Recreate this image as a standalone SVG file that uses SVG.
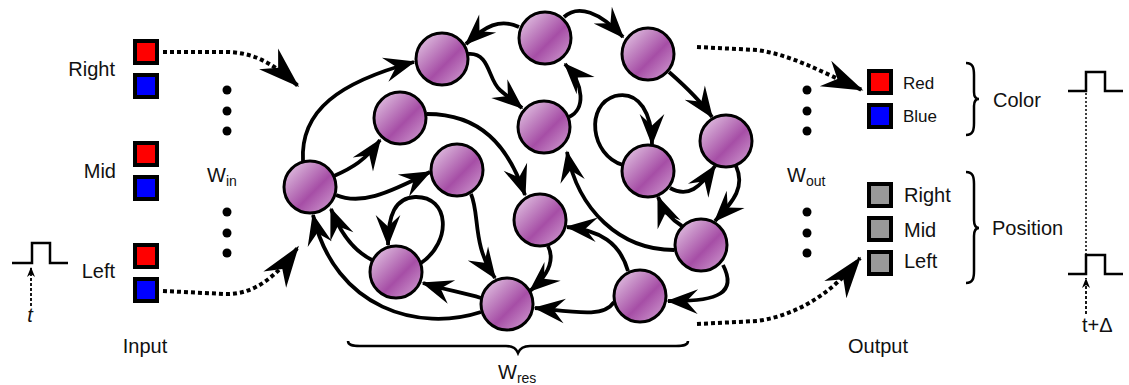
<svg xmlns="http://www.w3.org/2000/svg" width="1129" height="385" viewBox="0 0 1129 385">
<defs>
<linearGradient id="pg" x1="0" y1="0" x2="1" y2="1">
<stop offset="0" stop-color="#ecd4ec"/>
<stop offset="0.3" stop-color="#c68ec6"/>
<stop offset="0.58" stop-color="#a64ea6"/>
<stop offset="0.85" stop-color="#c486c4"/>
<stop offset="1" stop-color="#dcb6dc"/>
</linearGradient>
<marker id="ah" markerUnits="userSpaceOnUse" markerWidth="34" markerHeight="30" viewBox="-31 -13 33 26" refX="0" refY="0" orient="auto" overflow="visible">
<path d="M1.5,0 L-29,-12 L-18,0 L-29,12 Z" fill="#000"/>
</marker>
<marker id="dh" markerUnits="userSpaceOnUse" markerWidth="44" markerHeight="32" viewBox="-42 -15 44 30" refX="0" refY="0" orient="auto" overflow="visible">
<path d="M1.5,0 L-40,-14 L-27,0 L-40,14 Z" fill="#000"/>
</marker>
<marker id="sh" markerUnits="userSpaceOnUse" markerWidth="12" markerHeight="10" viewBox="-11 -5 12 10" refX="0" refY="0" orient="auto" overflow="visible">
<path d="M0,0 L-10,-4 L-7,0 L-10,4 Z" fill="#000"/>
</marker>
</defs>
<style>
.node{fill:url(#pg);stroke:#000;stroke-width:3}
.edge{fill:none;stroke:#000;stroke-width:3.8;marker-end:url(#ah)}
.dot{fill:none;stroke:#000;stroke-width:4;stroke-dasharray:4 3;marker-end:url(#dh)}
.sq{stroke:#000;stroke-width:4}
.red{fill:#ff0000}
.blue{fill:#0000ff}
.gray{fill:#999999}
.lbl{font-family:"Liberation Sans",Arial,sans-serif;font-size:20px;fill:#111}
.sm{font-size:17px}
.sub{font-size:14px}
.pulse{fill:none;stroke:#000;stroke-width:2.5}
.brace{fill:none;stroke:#000;stroke-width:2.5}
.ell{fill:#000}
</style>

<g id="connectors">
<path class="edge" d="M303,161 C300,110 340,82 414,62"/>
<path class="edge" d="M334,176 C352,168 366,160 380,140"/>
<path class="edge" d="M336,195 C360,205 385,195 430,172"/>
<path class="edge" d="M481,312 C420,332 335,310 313,215"/>
<path class="edge" d="M372,260 C352,250 340,232 331,209"/>
<path class="edge" d="M421,263 C452,242 450,196 415,197 C395,198 388,215 388,245"/>
<path class="edge" d="M481,298 C462,292 445,290 423,283"/>
<path class="edge" d="M471,194 C480,215 472,245 495,278"/>
<path class="edge" d="M427,114 C480,114 508,145 525,195"/>
<path class="edge" d="M548,246 C556,262 545,278 530,291"/>
<path class="edge" d="M614,302 C604,318 575,312 535,308"/>
<path class="edge" d="M628,271 C620,243 600,230 567,227"/>
<path class="edge" d="M723,265 C737,292 720,302 668,301"/>
<path class="edge" d="M674,250 C620,250 578,210 567,152"/>
<path class="edge" d="M682,226 C672,220 664,212 658,197"/>
<path class="edge" d="M670,188 C688,198 700,188 715,166"/>
<path class="edge" d="M736,166 C745,186 735,200 715,221"/>
<path class="edge" d="M623,165 C590,155 585,105 615,96 C640,90 652,115 652,144"/>
<path class="edge" d="M669,72 C685,86 700,100 712,117"/>
<path class="edge" d="M564,17 C578,4 600,12 623,37"/>
<path class="edge" d="M519,27 C500,18 485,26 466,44"/>
<path class="edge" d="M468,54 C490,52 488,80 500,90 C508,97 515,102 522,108"/>
<path class="edge" d="M569,117 C585,110 585,85 565,64"/>
<path class="dot" d="M163,52 L225,52 C252,52 272,62 298,86"/>
<path class="dot" d="M163,291 L225,294 C255,295 278,275 298,247"/>
<path class="dot" d="M697,47 L757,50 C792,55 822,72 862,90"/>
<path class="dot" d="M697,324 L757,321 C800,315 835,290 860,258"/>
</g>

<g id="n1"><circle class="node" cx="310" cy="187" r="26"/></g>
<g id="n2"><circle class="node" cx="442" cy="59" r="26"/></g>
<g id="n3"><circle class="node" cx="545" cy="38" r="26"/></g>
<g id="n4"><circle class="node" cx="648" cy="54" r="26"/></g>
<g id="n5"><circle class="node" cx="400" cy="118" r="26"/></g>
<g id="n6"><circle class="node" cx="544" cy="127" r="26"/></g>
<g id="n7"><circle class="node" cx="726" cy="141" r="26"/></g>
<g id="n8"><circle class="node" cx="648" cy="171" r="26"/></g>
<g id="n9"><circle class="node" cx="457" cy="170" r="26"/></g>
<g id="n10"><circle class="node" cx="540" cy="220" r="26"/></g>
<g id="n11"><circle class="node" cx="396" cy="272" r="26"/></g>
<g id="n12"><circle class="node" cx="507" cy="304" r="26"/></g>
<g id="n13"><circle class="node" cx="640" cy="296" r="26"/></g>
<g id="n14"><circle class="node" cx="701" cy="245" r="26"/></g>

<g id="input">
<rect class="sq red" x="135" y="41" width="22" height="22"/>
<rect class="sq blue" x="135" y="75" width="22" height="22"/>
<rect class="sq red" x="135" y="143" width="22" height="22"/>
<rect class="sq blue" x="135" y="177" width="22" height="22"/>
<rect class="sq red" x="135" y="245" width="22" height="22"/>
<rect class="sq blue" x="135" y="279" width="22" height="22"/>
<text class="lbl" x="115" y="76" text-anchor="end">Right</text>
<text class="lbl" x="116" y="178" text-anchor="end">Mid</text>
<text class="lbl" x="115" y="278" text-anchor="end">Left</text>
<text class="lbl" x="145" y="353" text-anchor="middle">Input</text>
<path class="pulse" d="M12,263 H32 V243 H50 V263 H68"/>
<line x1="31" y1="306" x2="31" y2="267" stroke="#000" stroke-width="1.8" stroke-dasharray="3 2" marker-end="url(#sh)"/>
<text class="lbl" x="30" y="322" text-anchor="middle" font-style="italic">t</text>
</g>

<g id="w-in">
<circle class="ell" cx="227" cy="90" r="4.5"/>
<circle class="ell" cx="227" cy="111" r="4.5"/>
<circle class="ell" cx="227" cy="131" r="4.5"/>
<circle class="ell" cx="227" cy="212" r="4.5"/>
<circle class="ell" cx="227" cy="233" r="4.5"/>
<circle class="ell" cx="227" cy="253" r="4.5"/>
<text class="lbl" x="207" y="182">W<tspan class="sub" dy="4">in</tspan></text>
</g>

<g id="w-res">
<path class="brace" stroke-width="3" d="M348,341 C348,345 352,346 360,346 L506,346 C512,346 516,348 518,353 C520,348 524,346 530,346 L676,346 C684,346 688,345 688,341"/>
<text class="lbl" x="498" y="379">W<tspan class="sub" dy="4">res</tspan></text>
</g>

<g id="w-out">
<circle class="ell" cx="807" cy="90" r="4.5"/>
<circle class="ell" cx="807" cy="111" r="4.5"/>
<circle class="ell" cx="807" cy="131" r="4.5"/>
<circle class="ell" cx="807" cy="212" r="4.5"/>
<circle class="ell" cx="807" cy="233" r="4.5"/>
<circle class="ell" cx="807" cy="253" r="4.5"/>
<text class="lbl" x="787" y="182">W<tspan class="sub" dy="4">out</tspan></text>
</g>

<g id="output">
<rect class="sq red" x="869" y="71" width="22" height="22"/>
<rect class="sq blue" x="869" y="105" width="22" height="22"/>
<rect class="sq gray" x="869" y="184" width="22" height="22"/>
<rect class="sq gray" x="869" y="218" width="22" height="22"/>
<rect class="sq gray" x="869" y="252" width="22" height="22"/>
<text class="lbl sm" x="903" y="89">Red</text>
<text class="lbl sm" x="903" y="122">Blue</text>
<text class="lbl" x="904" y="202">Right</text>
<text class="lbl" x="904" y="237">Mid</text>
<text class="lbl" x="904" y="268">Left</text>
<text class="lbl" x="878" y="353" text-anchor="middle">Output</text>
<path class="brace" d="M966,63 C973,63 974,68 974,75 L974,92 C974,97 976,99 979,99 C976,99 974,101 974,106 L974,123 C974,130 973,135 966,135"/>
<path class="brace" d="M966,172 C973,172 974,177 974,184 L974,220 C974,225 976,228 979,228 C976,228 974,231 974,236 L974,271 C974,278 973,283 966,283"/>
<text class="lbl" x="993" y="107">Color</text>
<text class="lbl" x="992" y="235">Position</text>
<path class="pulse" d="M1068,91 H1086 V72 H1105 V91 H1123"/>
<path class="pulse" d="M1068,274 H1086 V255 H1105 V274 H1123"/>
<line x1="1086" y1="93" x2="1086" y2="254" stroke="#000" stroke-width="1.5" stroke-dasharray="2 2"/>
<line x1="1086" y1="314" x2="1086" y2="278" stroke="#000" stroke-width="1.8" stroke-dasharray="3 2" marker-end="url(#sh)"/>
<text class="lbl" x="1082" y="332">t+Δ</text>
</g>
</svg>
